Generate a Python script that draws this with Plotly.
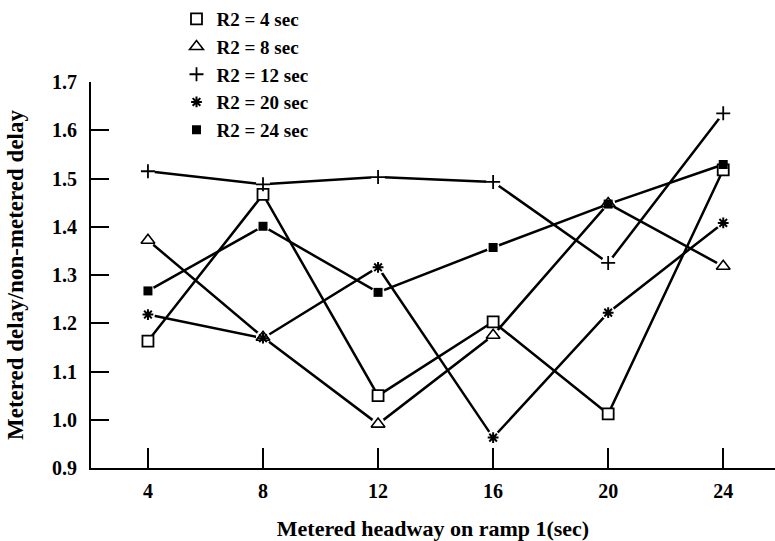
import plotly.graph_objects as go

headway = [4, 8, 12, 16, 20, 24]
series_names = ["R2 = 4 sec", "R2 = 8 sec", "R2 = 12 sec", "R2 = 20 sec", "R2 = 24 sec"]
r2_4 = [1.163, 1.467, 1.050, 1.203, 1.012, 1.518]
r2_8 = [1.372, 1.171, 0.991, 1.175, 1.448, 1.318]
r2_12 = [1.515, 1.488, 1.503, 1.493, 1.325, 1.635]
r2_20 = [1.218, 1.169, 1.316, 0.963, 1.222, 1.408]
r2_24 = [1.267, 1.401, 1.264, 1.357, 1.447, 1.529]
y_ticks = [0.9, 1.0, 1.1, 1.2, 1.3, 1.4, 1.5, 1.6, 1.7]
x_ticks = [4, 8, 12, 16, 20, 24]

all_series = [r2_4, r2_8, r2_12, r2_20, r2_24]
FONT = "Liberation Serif"
styles = [
    dict(symbol="square", size=11, color="white", line=dict(color="black", width=1.8)),
    dict(symbol="triangle-up", size=12, color="white", line=dict(color="black", width=1.6)),
    dict(symbol="cross-thin-open", size=10, color="black", line=dict(color="black", width=1.8)),
    dict(symbol="asterisk-open", size=9, color="black", line=dict(color="black", width=2)),
    dict(symbol="square", size=9, color="black", line=dict(color="black", width=0)),
]
mask_sizes = [13, 14, 14, 14, 13]

fig = go.Figure()
# lines
for vals in all_series:
    fig.add_trace(go.Scatter(x=headway, y=vals, mode="lines",
                             line=dict(color="black", width=2.5),
                             showlegend=False, hoverinfo="skip"))
# white gaps around markers
for vals, ms in zip(all_series, mask_sizes):
    fig.add_trace(go.Scatter(x=headway, y=vals, mode="markers",
                             marker=dict(symbol="circle", size=ms, color="white",
                                         line=dict(width=0)),
                             showlegend=False, hoverinfo="skip"))
# markers (legend)
for i, (vals, name, st) in enumerate(zip(all_series, series_names, styles)):
    fig.add_trace(go.Scatter(x=headway, y=vals, mode="markers", name=name,
                             legendgroup=f"g{i}", marker=st))

fig.update_layout(
    width=775, height=541,
    margin=dict(l=91, r=0, t=82, b=73, autoexpand=False),
    paper_bgcolor="white", plot_bgcolor="white",
    font=dict(family=FONT, color="black", size=20),
    legend=dict(x=0.125, y=1.0, yref="container", xanchor="left", yanchor="top",
                bgcolor="rgba(0,0,0,0)", tracegroupgap=0,
                font=dict(family=FONT, size=19, color="black", weight="bold")),
    xaxis=dict(range=[2.02, 25.8], tickvals=x_ticks, ticktext=[str(v) for v in x_ticks],
               ticks="inside", ticklen=20, tickwidth=1.5, tickcolor="black",
               ticklabelstandoff=4,
               showline=True, linewidth=2, linecolor="black", showgrid=False, zeroline=False,
               tickfont=dict(family=FONT, size=20, weight="bold"),
               title=dict(text="Metered headway on ramp 1(sec)", standoff=20,
                          font=dict(family=FONT, size=22, weight="bold"))),
    yaxis=dict(range=[0.9, 1.7], tickvals=y_ticks, ticktext=[f"{v:.1f}" for v in y_ticks],
               ticks="inside", ticklen=18, tickwidth=2, tickcolor="black",
               ticklabelstandoff=8,
               showline=True, linewidth=2, linecolor="black", showgrid=False, zeroline=False,
               tickfont=dict(family=FONT, size=20, weight="bold"),
               title=dict(text="Metered delay/non-metered delay", standoff=22,
                          font=dict(family=FONT, size=23, weight="bold"))),
)

fig.write_html("out.html")
